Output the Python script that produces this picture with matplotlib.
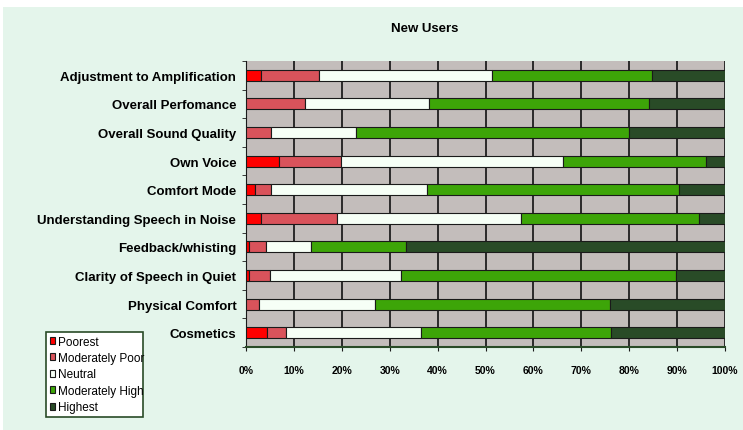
import numpy as np
import matplotlib.pyplot as plt
from matplotlib.patches import Rectangle

categories = ['Adjustment to Amplification', 'Overall Perfomance', 'Overall Sound Quality',
              'Own Voice', 'Comfort Mode', 'Understanding Speech in Noise',
              'Feedback/whisting', 'Clarity of Speech in Quiet', 'Physical Comfort', 'Cosmetics']
levels = ['Poorest', 'Moderately Poor', 'Neutral', 'Moderately High', 'Highest']

# percentages per category (same order as categories)
poorest = [3.2, 0.0, 0.0, 6.9, 1.9, 3.1, 0.6, 0.6, 0.0, 4.3]
mod_poor = [12.1, 12.3, 5.2, 12.9, 3.3, 16.0, 3.5, 4.4, 2.7, 4.0]
neutral = [36.0, 25.9, 17.7, 46.4, 32.6, 38.4, 9.5, 27.3, 24.2, 28.2]
mod_high = [33.4, 46.0, 57.1, 29.8, 52.6, 37.1, 19.9, 57.4, 49.0, 39.7]
highest = [15.3, 15.8, 20.0, 4.0, 9.6, 5.4, 66.5, 10.3, 24.1, 23.8]

colors = ['#ff0000', '#d9535b', '#f6fff6', '#3da508', '#294b27']
mint = '#e4f5eb'

fig = plt.figure(figsize=(7.43, 4.31), dpi=100)
fig.patch.set_facecolor('white')
fig.patches.append(Rectangle((3 / 743, 0), 1, 1 - 8 / 431, transform=fig.transFigure,
                             facecolor=mint, edgecolor='none', zorder=-10))

ax = fig.add_axes([246 / 743, 1 - 348 / 431, 479 / 743, 286 / 431])
ax.set_facecolor('#c3bdbb')

y = np.arange(len(categories))
left = np.zeros(len(categories))
for vals, col, lab in zip([poorest, mod_poor, neutral, mod_high, highest], colors, levels):
    ax.barh(y, vals, left=left, height=0.39, color=col, edgecolor='#1a1a1a',
            linewidth=0.8, label=lab, zorder=3)
    left += np.array(vals)

ax.set_xlim(0, 100)
ax.set_ylim(len(categories) - 0.5, -0.5)
ax.set_xticks(np.arange(0, 101, 10))
ax.set_xticklabels([f'{v}%' for v in range(0, 101, 10)], fontsize=7.5, fontweight='bold',
                   family='Liberation Sans')
ax.set_yticks(y)
ax.set_yticklabels(categories, fontsize=9.5, fontweight='bold', family='Liberation Sans')
ax.set_yticks(np.arange(-0.5, len(categories), 1), minor=True)
ax.tick_params(axis='y', which='major', length=0, pad=7)
ax.tick_params(axis='y', which='minor', length=3, color='#1a1a1a')
ax.tick_params(axis='x', length=3, color='#1a1a1a', pad=10)
ax.grid(axis='x', color='#111111', linewidth=1.2, zorder=1)
ax.set_axisbelow(True)
for side in ['top', 'right']:
    ax.spines[side].set_visible(False)
ax.spines['left'].set_color('#1a1a1a')
ax.spines['bottom'].set_color('#294b27')
ax.spines['bottom'].set_linewidth(1.5)

fig.text(425 / 743, 1 - 29 / 431, 'New Users', ha='center', va='center', fontsize=9.5,
         fontweight='bold', family='Liberation Sans')

leg = fig.legend(loc='lower left', bbox_to_anchor=(46 / 743, 1 - 418 / 431, 97 / 743, 85 / 431),
                 mode='expand', prop={'family': 'Liberation Sans', 'size': 8.5},
                 handlelength=0.5, handleheight=0.5, handletextpad=0.25, labelspacing=0.38,
                 borderpad=0.3, borderaxespad=0, fancybox=False, framealpha=1,
                 edgecolor='#294b27')
leg.get_frame().set_facecolor('white')
leg.get_frame().set_linewidth(1.2)
for t in leg.get_texts():
    t.set_clip_path(leg.get_frame())

fig.savefig('out.png', dpi=100, facecolor=fig.get_facecolor())
